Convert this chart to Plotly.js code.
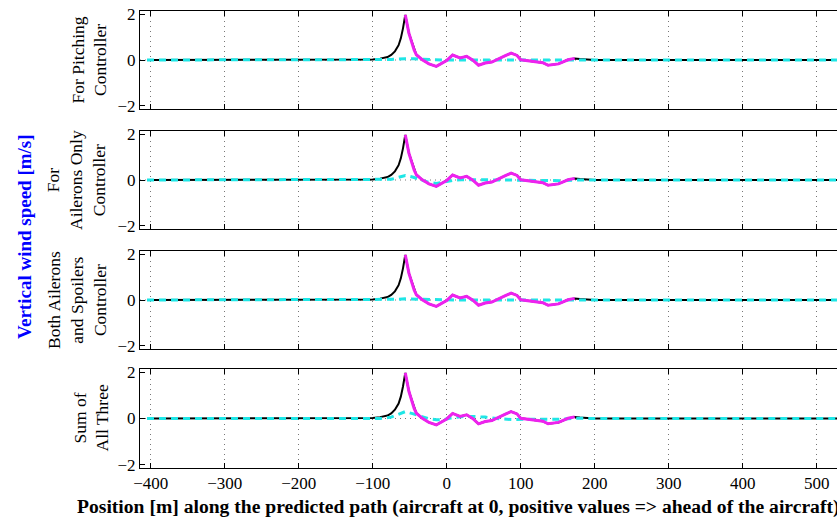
<!DOCTYPE html>
<html>
<head>
<meta charset="utf-8">
<script src="https://cdn.plot.ly/plotly-3.0.1.min.js"></script>
<style>
html,body{margin:0;padding:0;overflow:hidden;background:#fff;width:837px;height:523px;}
#chart{width:1000px;height:523px;}
</style>
</head>
<body>
<div id="chart"></div>
<script>
// ---- data ----
const xPos = [-405, -110, -100, -90, -80, -75, -70, -65, -62, -59, -56, -51, -44, -41, -33, -24, -14, -6, 0, 8, 18, 27, 35, 43, 52, 61, 74, 80, 87, 95, 100, 110, 119, 130, 137, 151, 164, 173, 180, 190, 200, 620];
const totalWind = [0, 0, 0.02, 0.06, 0.13, 0.22, 0.38, 0.65, 0.95, 1.4, 1.98, 1.17, 0.44, 0.23, 0.01, -0.17, -0.28, -0.15, -0.02, 0.22, 0.09, 0.16, 0.0, -0.23, -0.13, -0.09, 0.13, 0.2, 0.30, 0.2, 0.01, -0.03, -0.06, -0.12, -0.23, -0.17, 0.01, 0.07, 0.04, 0.01, 0, 0];
const windowStart = -56;
const windowEnd = 173;

const cyanX = [-405, -90, -75, -65, -56, -45, -35, -25, -14, -5, 5, 12, 20, 34, 52, 74, 92, 110, 132, 155, 173, 200, 620];
const cyanPitching = [0, 0, 0.02, 0.04, 0.06, 0.05, 0.03, 0.01, 0, 0, 0, 0, 0, 0, 0, 0, 0, 0, 0, 0, 0, 0, 0];
const cyanAilerons = [0, 0, 0.03, 0.12, 0.2, 0.12, 0.0, -0.1, -0.15, -0.1, -0.03, 0, 0.01, 0.02, 0.01, 0, -0.01, -0.02, -0.03, -0.03, 0, 0, 0];
const cyanBoth = [0, 0, 0.01, 0.03, 0.05, 0.04, 0.02, 0.01, 0, -0.01, 0, 0, 0, 0, 0, 0, 0, 0, 0, 0, 0, 0, 0];
const cyanSum = [0, 0, 0.06, 0.18, 0.30, 0.2, 0.1, 0.0, -0.05, -0.06, 0.02, 0.06, 0.08, 0.09, 0.06, -0.02, -0.05, -0.03, -0.03, -0.03, 0.01, 0, 0];
const cyanSeries = [cyanPitching, cyanAilerons, cyanBoth, cyanSum];

const panelLabels = ["For Pitching<br>Controller", "For<br>Ailerons Only<br>Controller", "Both Ailerons<br>and Spoilers<br>Controller", "Sum of<br>All Three"];
const xTickVals = [-400, -300, -200, -100, 0, 100, 200, 300, 400, 500];
const yTickVals = [-2, 0, 2];
const yTitle = "Vertical wind speed [m/s]";
const xTitle = "Position [m] along the predicted path (aircraft at 0, positive values => ahead of the aircraft)";

// ---- layout geometry (pixels) ----
const L = 140, R = 900, T = 11, B = 468;
const boxes = [[11, 109], [131, 229], [251, 349], [369, 468]];
const labelCenters = [88.5, 76, 77, 91];
const pxPerUnit = 0.74;
const xMin = -400 - (150.7 - L) / pxPerUnit;
const xMax = xMin + (R - L) / pxPerUnit;
const px2x = p => (p - L) / (R - L);
const py2y = p => (B - p) / (B - T);

const FONT = "Liberation Serif";
const winX = [], winY = [];
xPos.forEach((x, i) => { if (x >= windowStart && x <= windowEnd) { winX.push(x); winY.push(totalWind[i]); } });

const traces = [];
const layout = {
  width: 1000, height: 523,
  margin: {l: L, r: 1000 - R, t: T, b: 523 - B},
  paper_bgcolor: "#fff", plot_bgcolor: "#fff",
  showlegend: false,
  font: {family: FONT, size: 16, color: "#000"},
  annotations: [],
  shapes: []
};

for (let k = 0; k < 4; k++) {
  const xa = k === 0 ? "x" : "x" + (k + 1);
  const ya = k === 0 ? "y" : "y" + (k + 1);
  traces.push({x: xPos, y: totalWind, xaxis: xa, yaxis: ya, mode: "lines", line: {color: "#000", width: 2}, hoverinfo: "skip"});
  traces.push({x: cyanX, y: cyanSeries[k], xaxis: xa, yaxis: ya, mode: "lines", line: {color: "#1ee6e6", width: 3, dash: "7px,5px"}, hoverinfo: "skip"});
  traces.push({x: winX, y: winY, xaxis: xa, yaxis: ya, mode: "lines", line: {color: "#ee22ee", width: 3}, hoverinfo: "skip"});

  const xName = k === 0 ? "xaxis" : "xaxis" + (k + 1);
  const yName = k === 0 ? "yaxis" : "yaxis" + (k + 1);
  const dom = [py2y(boxes[k][1]), py2y(boxes[k][0])];
  layout[xName] = {
    range: [xMin, xMax], anchor: ya, domain: [0, 1],
    tickvals: xTickVals, ticks: "inside", ticklen: 5, tickcolor: "#000",
    showline: true, linecolor: "#000", linewidth: 1, mirror: "ticks",
    showgrid: true, gridcolor: "#777", griddash: "1px,4px", gridwidth: 1,
    zeroline: false, showticklabels: k === 3,
    tickfont: {family: FONT, size: 17, color: "#000"}
  };
  if (k > 0) layout[xName].matches = "x";
  layout[yName] = {
    range: [-2.15, 2.15], domain: dom, anchor: xa,
    tickvals: yTickVals, ticks: "inside", ticklen: 5, tickcolor: "#000",
    showline: true, linecolor: "#000", linewidth: 1, mirror: "ticks",
    showgrid: false, zeroline: false,
    tickfont: {family: FONT, size: 17, color: "#000"}
  };
  layout.shapes.push({
    type: "line", xref: xa + " domain", yref: ya, x0: 0, x1: 1, y0: 0, y1: 0, layer: "below",
    line: {color: "#777", width: 1, dash: "1px,4px"}
  });
  layout.annotations.push({
    xref: "paper", yref: "paper", x: px2x(labelCenters[k]), y: py2y((boxes[k][0] + boxes[k][1]) / 2),
    xanchor: "center", yanchor: "middle", textangle: -90, showarrow: false,
    text: panelLabels[k], font: {family: FONT, size: 17.5, color: "#000"}
  });
}

layout.annotations.push({
  xref: "paper", yref: "paper", x: px2x(24), y: py2y(237), xanchor: "center", yanchor: "middle",
  textangle: -90, showarrow: false, text: "<b>" + yTitle + "</b>",
  font: {family: FONT, size: 19, color: "#0000ff"}
});
layout.annotations.push({
  xref: "paper", yref: "paper", x: px2x(75), y: py2y(507), xanchor: "left", yanchor: "middle",
  showarrow: false, text: "<b>" + xTitle.replace(/>/g, "&gt;") + "</b>",
  font: {family: FONT, size: 19.6, color: "#000"}
});

Plotly.newPlot("chart", traces, layout, {staticPlot: true, displayModeBar: false});
</script>
</body>
</html>
